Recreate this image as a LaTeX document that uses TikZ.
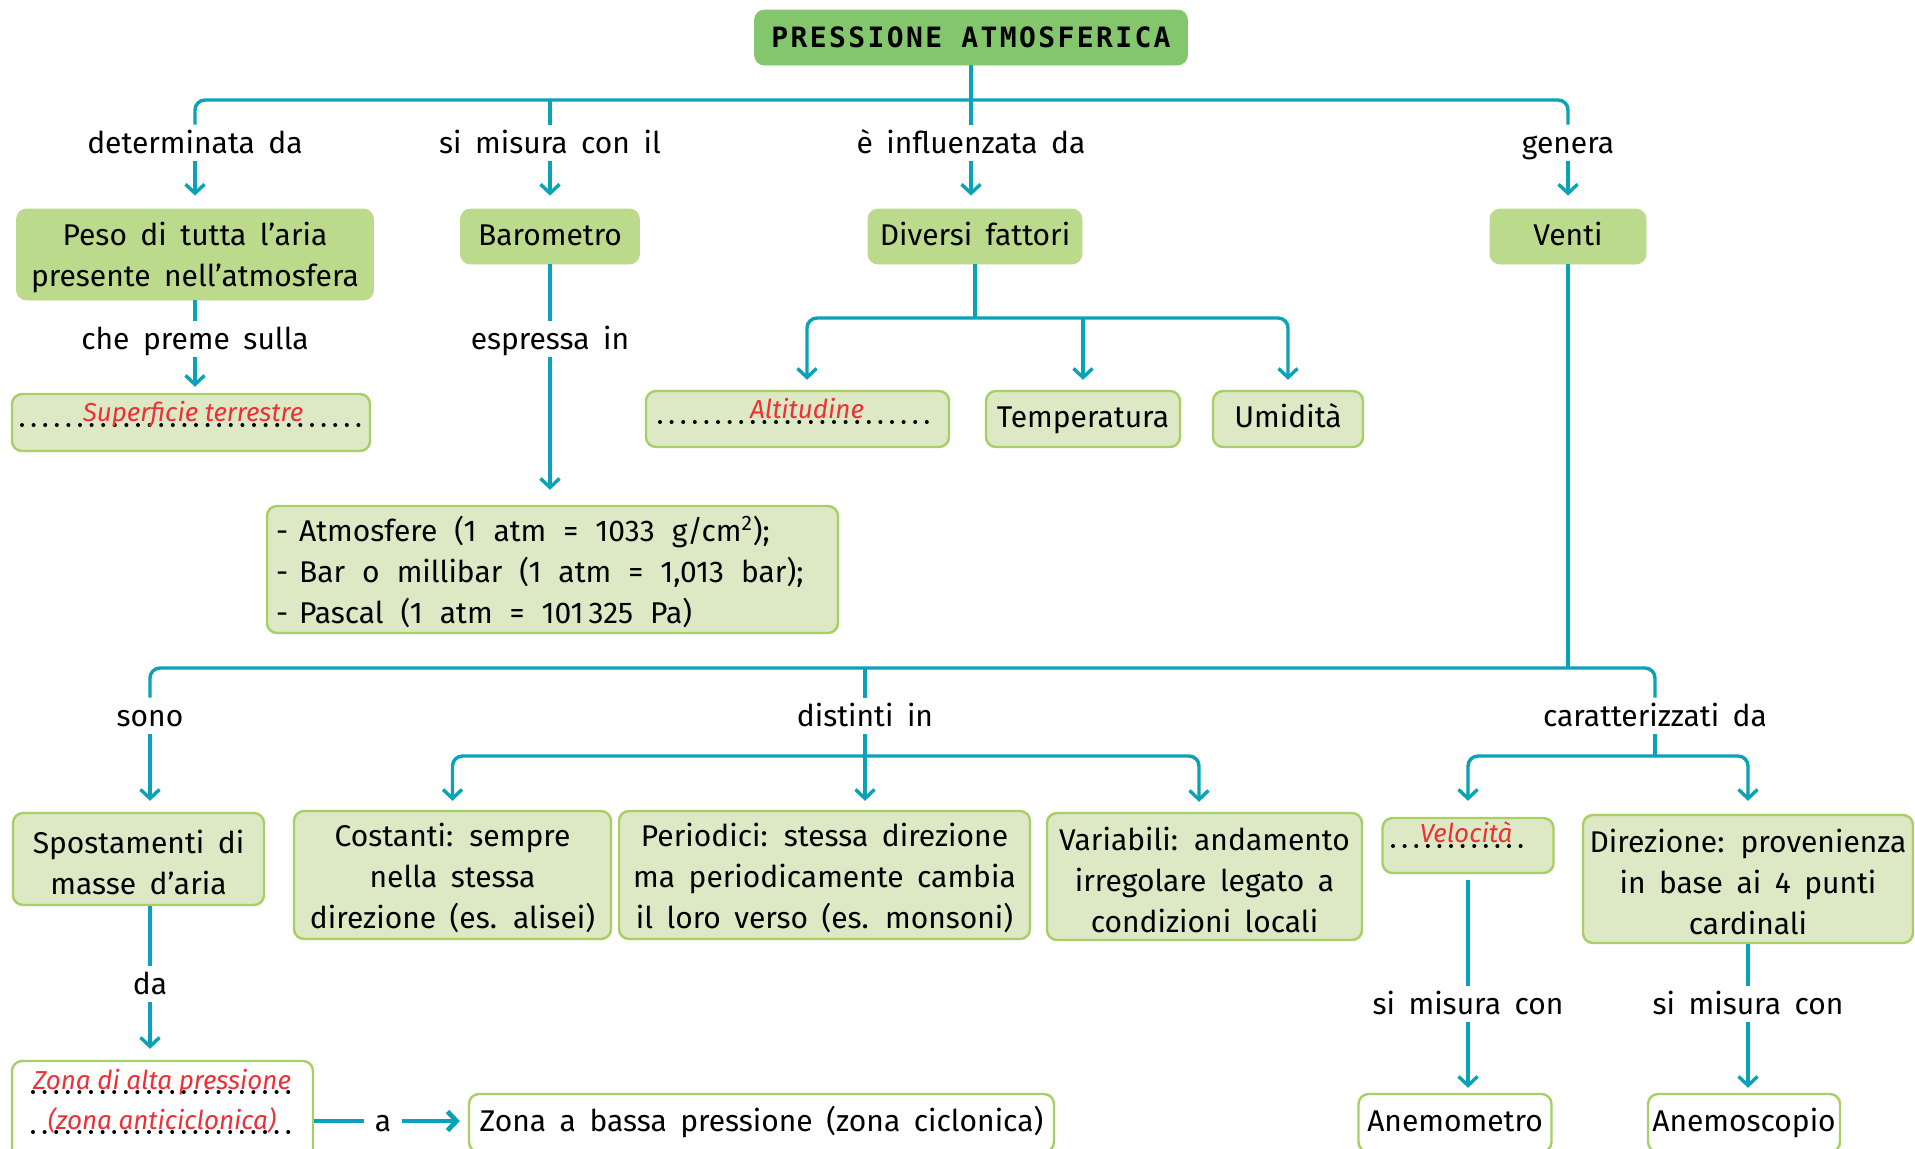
\documentclass[tikz,border=0pt]{standalone}
\usepackage{fontspec}
\setmainfont{Fira Sans}[WordSpace=1.7]
\newfontfamily\titlefont[LetterSpace=8.5]{DejaVu Sans Mono}
\usetikzlibrary{arrows.meta}
\definecolor{lnc}{HTML}{0AA2B6}
\definecolor{ttl}{HTML}{84C66B}
\definecolor{midg}{HTML}{BCDA8B}
\definecolor{lightg}{HTML}{DCE9C4}
\definecolor{bord}{HTML}{A6D063}
\definecolor{redt}{HTML}{EE3035}
\newcommand\bodyf{\fontsize{15}{20.5}\selectfont}
\newcommand\redf{\fontsize{13}{15}\selectfont\itshape\color{redt}\spaceskip=3.3pt\relax}
\newcommand\fl{\rule{0pt}{15pt}}
\begin{document}
\begin{tikzpicture}[x=0.5pt,y=-0.5pt,
  conn/.style={draw=lnc,line width=1.7pt,rounded corners=5pt},
  arr/.style={conn,-{Straight Barb[length=4.5pt,width=9.5pt]}},
  bxttl/.style={fill=ttl,draw=ttl,rounded corners=5pt,inner sep=0pt,align=center,font=\titlefont\fontsize{14}{16}\selectfont\bfseries},
  bxmid/.style={fill=midg,draw=midg,rounded corners=5pt,inner sep=0pt,align=center,font=\bodyf},
  bxlt/.style={fill=lightg,draw=bord,line width=1.2pt,rounded corners=5pt,inner sep=0pt,align=center,font=\bodyf},
  bxwh/.style={fill=white,draw=bord,line width=1.2pt,rounded corners=5pt,inner sep=0pt,align=center,font=\bodyf},
  one/.style={text height=11pt,text depth=2.5pt},
  lbl/.style={inner sep=0pt,minimum height=18pt,text height=12pt,text depth=1.5pt,font=\bodyf},
  dots/.style={line width=2pt,line cap=round,dash pattern=on 0pt off 5.8pt},
  redtxt/.style={inner sep=0pt,anchor=base,font=\redf}
]
\useasboundingbox (0,0) rectangle (1915,1148);
\clip (0,0) rectangle (1915,1148);

% ---- nodes ----
\node[bxttl,minimum width=216.5pt,minimum height=27.5pt] (title) at (971,37.5) {PRESSIONE ATMOSFERICA};

\node[bxmid,minimum width=178.5pt,minimum height=45.5pt] (peso) at (195,254.5) {\fl Peso di tutta l’aria\\presente nell’atmosfera};
\node[bxmid,one,minimum width=89.5pt,minimum height=27.5pt] (baro) at (550,236.5) {Barometro};
\node[bxmid,one,minimum width=107pt,minimum height=27.5pt] (div) at (975,236.5) {Diversi fattori};
\node[bxmid,one,minimum width=78pt,minimum height=27.5pt] (venti) at (1568,236.5) {Venti};

\node[bxlt,minimum width=179pt,minimum height=28.5pt] (sup) at (191,422.5) {};
\node[bxlt,minimum height=63.5pt,text width=276.5pt,inner xsep=4.5pt,align=left] (units) at (552.5,569.5)
  {\spaceskip=8.5pt\relax\fl -\hspace{5.5pt}Atmosfere (1 atm = 1033 g/cm\textsuperscript{2});\\-\hspace{5.5pt}Bar o millibar (1 atm = 1,013 bar);\\-\hspace{5.5pt}Pascal (1 atm = 101\,325 Pa)};
\node[bxlt,minimum width=151.5pt,minimum height=28pt] (alt) at (797.5,419) {};
\node[bxlt,one,minimum width=97pt,minimum height=28pt] (temp) at (1083,419) {Temperatura};
\node[bxlt,one,minimum width=75pt,minimum height=28pt] (umid) at (1288,419) {Umidità};

\node[bxlt,minimum width=125.5pt,minimum height=46pt] (spost) at (138.5,859) {\fl Spostamenti di\\masse d’aria};
\node[bxlt,minimum width=158.5pt,minimum height=64pt] (cost) at (452.5,875) {\fl Costanti: sempre\\nella stessa\\direzione (es. alisei)};
\node[bxlt,minimum width=205.5pt,minimum height=64pt] (peri) at (824.5,875) {\fl Periodici: stessa direzione\\ma periodicamente cambia\\il loro verso (es. monsoni)};
\node[bxlt,minimum width=157.5pt,minimum height=63.5pt] (vari) at (1204.5,876.5) {\fl Variabili: andamento\\irregolare legato a\\condizioni locali};
\node[bxlt,minimum width=85.5pt,minimum height=27.5pt] (velo) at (1468,845.5) {};
\node[bxlt,minimum width=165pt,minimum height=64pt] (dire) at (1748,879) {\fl Direzione: provenienza\\in base ai 4 punti\\cardinali};

\node[bxwh,minimum width=150.5pt,minimum height=49.5pt] (alta) at (162.5,1110.5) {};
\node[bxwh,one,minimum width=292.5pt,minimum height=29pt] (bassa) at (761.5,1123) {Zona a bassa pressione (zona ciclonica)};
\node[bxwh,one,minimum width=96.5pt,minimum height=29pt] (anemom) at (1455,1123) {Anemometro};
\node[bxwh,one,minimum width=96pt,minimum height=29pt] (anemos) at (1744,1123) {Anemoscopio};

% ---- red answers with dotted lines ----
\draw[dots] (22,425) -- (362,425);
\node[redtxt] (rsup) at (193,421) {Superficie terrestre};
\draw[dots] (660,422) -- (938,422);
\node[redtxt] (ralt) at (807,418) {Altitudine};
\draw[dots] (1393,846) -- (1532,846);
\node[redtxt] (rvel) at (1466,842) {Velocità};
\draw[dots] (33,1092) -- (293,1092);
\node[redtxt] (ralta1) at (162,1089) {Zona di alta pressione};
\draw[dots] (33,1132) -- (293,1132);
\node[redtxt] (ralta2) at (162,1129) {(zona anticiclonica)};

% ---- labels ----
\node[lbl] (l1) at (195,143) {determinata da};
\node[lbl] (l2) at (550,143) {si misura con il};
\node[lbl] (l3) at (971,143) {è influenzata da};
\node[lbl] (l4) at (1568,143) {genera};
\node[lbl] (l5) at (195,339) {che preme sulla};
\node[lbl] (l6) at (550,339) {espressa in};
\node[lbl] (l7) at (150,716) {sono};
\node[lbl] (l8) at (865,716) {distinti in};
\node[lbl] (l9) at (1655,716) {caratterizzati da};
\node[lbl] (l10) at (150,984) {da};
\node[lbl] (l11) at (1468,1004) {si misura con};
\node[lbl] (l12) at (1748,1004) {si misura con};
\node[lbl,minimum width=19pt] (l13) at (383,1121) {a};

% ---- connectors ----
\coordinate (hy) at (0,100);
\draw[conn] (l1.north) |- (l4.north |- hy) -- (l4.north);
\draw[conn] (title.south) -- (l3.north);
\draw[conn] (l2.north |- hy) -- (l2.north);
\draw[arr,shorten >=6.5pt] (l1.south) -- (l1.south |- peso.north);
\draw[arr,shorten >=6.5pt] (l2.south) -- (l2.south |- baro.north);
\draw[arr,shorten >=6.5pt] (l3.south) -- (l3.south |- div.north);
\draw[arr,shorten >=6.5pt] (l4.south) -- (l4.south |- venti.north);

\draw[conn] (peso.south) -- (l5.north);
\draw[arr,shorten >=3pt] (l5.south) -- (l5.south |- sup.north);
\draw[conn] (baro.south) -- (l6.north);
\draw[arr,shorten >=7.5pt] (l6.south) -- (l6.south |- units.north);

\coordinate (jf) at (975,318);
\draw[conn] (div.south) -- (jf);
\draw[arr,shorten >=5pt] (jf) -| ([xshift=4.75pt]alt.north);
\draw[arr,shorten >=5pt] (jf -| temp.north) -- (temp.north);
\draw[arr,shorten >=5pt] (jf) -| (umid.north);

\coordinate (jv) at (1568,668);
\draw[conn] (venti.south) -- (jv);
\draw[conn] (l7.north) |- (l9.north |- jv) -- (l9.north);
\draw[conn] (l8.north |- jv) -- (l8.north);
\draw[arr,shorten >=5.5pt] (l7.south) -- (l7.south |- spost.north);
\draw[arr,shorten >=4.5pt] (l8.south) -- (l8.south |- peri.north);
\coordinate (jd) at (865,756);
\draw[arr,shorten >=4.5pt] (jd) -| (cost.north);
\draw[arr,shorten >=5pt] (jd) -| ([xshift=-2.75pt]vari.north);
\coordinate (jc) at (1655,756);
\draw[conn] (l9.south) -- (jc);
\draw[arr,shorten >=8pt] (jc) -| (velo.north);
\draw[arr,shorten >=6.5pt] (jc) -| (dire.north);

\draw[conn] (l10.north |- spost.south) -- (l10.north);
\draw[arr,shorten >=5.5pt] (l10.south) -- (l10.south |- alta.north);
\draw[conn,shorten <=3pt] (velo.south) -- (l11.north);
\draw[arr,shorten >=2.5pt] (l11.south) -- (l11.south |- anemom.north);
\draw[conn] (l12.north |- dire.south) -- (l12.north);
\draw[arr,shorten >=2.5pt] (l12.south) -- (l12.south |- anemos.north);

\draw[conn,line width=2.4pt] (alta.east |- l13) -- (l13.west);
\draw[arr,line width=2.4pt,shorten >=4pt] (l13.east) -- (bassa.west |- l13);
\end{tikzpicture}
\end{document}
